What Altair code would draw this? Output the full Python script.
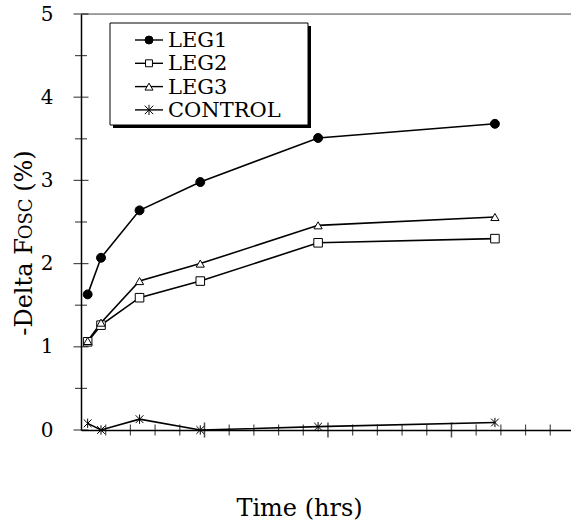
import altair as alt
import pandas as pd

# ---- data ----
series = ["LEG1", "LEG2", "LEG3", "CONTROL"]
time_hrs = [0.27, 0.81, 2.37, 4.83, 9.6, 16.76]
leg1 = [1.63, 2.07, 2.64, 2.98, 3.51, 3.68]
leg2 = [1.06, 1.26, 1.59, 1.79, 2.25, 2.30]
leg3 = [1.07, 1.29, 1.79, 2.00, 2.46, 2.56]
control = [0.08, 0.0, 0.13, 0.0, 0.04, 0.09]

y_ticks = [0, 1, 2, 3, 4, 5]
y_minor = [0.5, 1.5, 2.5, 3.5, 4.5]
x_major = [5, 10, 15]
x_minor = [1, 2, 3, 4, 6, 7, 8, 9, 11, 12, 13, 14, 16, 17, 18, 19]

FONT = "DejaVu Serif"
W, H = 490, 416
XMAX = 19.84

rows = []
for name, vals in zip(series, [leg1, leg2, leg3, control]):
    for t, v in zip(time_hrs, vals):
        rows.append({"series": name, "time": t, "value": v})
df = pd.DataFrame(rows)

asterisk = "M-1,-1L1,1M-1,1L1,-1M0,-1.2L0,1.2"
shapes = ["circle", "square", "triangle-up", asterisk]
fills = ["black", "white", "white", "white"]
sizes = [80, 60, 80, 90]
widths = [1.6, 1.6, 1.6, 1.0]

xs = alt.Scale(domain=[0, XMAX], nice=False, zero=False)
ys = alt.Scale(domain=[0, 5], nice=False)

X = alt.X("time:Q", scale=xs,
          axis=alt.Axis(labels=False, ticks=False, grid=False, values=[],
                        title="Time (hrs)", titleFont=FONT, titleFontSize=24,
                        titleFontWeight="normal", titleColor="black",
                        titleX=218, titleY=85, titleBaseline="alphabetic",
                        titleAlign="center",
                        domainColor="black", domainWidth=1.5))
Y = alt.Y("value:Q", scale=ys,
          axis=alt.Axis(values=y_ticks, format="d", ticks=False, grid=False, labelFont=FONT,
                        labelFontSize=20, labelColor="black", labelPadding=28,
                        title=None, domainColor="black", domainWidth=1.5))

lines = alt.Chart(df).mark_line(color="black").encode(
    x=X, y=Y, detail="series:N",
    strokeWidth=alt.StrokeWidth("series:N", scale=alt.Scale(domain=series, range=widths), legend=None),
)
points = alt.Chart(df).mark_point(filled=True, stroke="black", strokeWidth=1, opacity=1).encode(
    x="time:Q", y="value:Q",
    shape=alt.Shape("series:N", scale=alt.Scale(domain=series, range=shapes), legend=None),
    fill=alt.Fill("series:N", scale=alt.Scale(domain=series, range=fills), legend=None),
    size=alt.Size("series:N", scale=alt.Scale(domain=series, range=sizes), legend=None),
)

# crossing tick marks
ytm = alt.Chart(pd.DataFrame({"v": y_ticks})).mark_tick(orient="horizontal", color="black", size=15, thickness=1.2).encode(
    y="v:Q", x=alt.datum(0))
ytn = alt.Chart(pd.DataFrame({"v": y_minor})).mark_tick(orient="horizontal", color="black", size=12, thickness=1.2).encode(
    y="v:Q", x=alt.datum(0))
xtm = alt.Chart(pd.DataFrame({"v": x_major})).mark_tick(orient="vertical", color="black", size=15, thickness=1.5).encode(
    x="v:Q", y=alt.datum(0))
xtn = alt.Chart(pd.DataFrame({"v": x_minor})).mark_tick(orient="vertical", color="black", size=11, thickness=1.2).encode(
    x="v:Q", y=alt.datum(0))

top = alt.Chart(pd.DataFrame({"a": [0]})).mark_rule(color="#555", strokeWidth=1).encode(
    y=alt.datum(5), x=alt.value(0), x2=alt.value(W))

# legend box with drop shadow
one = pd.DataFrame({"a": [0]})
shadow = alt.Chart(one).mark_rect(color="black").encode(
    x=alt.value(32), x2=alt.value(230), y=alt.value(12), y2=alt.value(114))
box = alt.Chart(one).mark_rect(fill="white", stroke="black", strokeWidth=1).encode(
    x=alt.value(29), x2=alt.value(227), y=alt.value(9), y2=alt.value(111))

legend_layers = []
for i, name in enumerate(series):
    ry = 26 + i * 23.3
    ld = pd.DataFrame({"series": [name]})
    legend_layers.append(alt.Chart(ld).mark_rule(color="black", strokeWidth=1.4).encode(
        x=alt.value(54), x2=alt.value(82), y=alt.value(ry)))
    legend_layers.append(alt.Chart(ld).mark_point(shape=shapes[i], filled=True, fill=fills[i],
                                                  stroke="black", strokeWidth=1, opacity=1,
                                                  size=sizes[i] * 0.8).encode(
        x=alt.value(68), y=alt.value(ry)))
    legend_layers.append(alt.Chart(ld).mark_text(align="left", baseline="middle", font=FONT,
                                                 fontSize=21, color="black").encode(
        x=alt.value(87), y=alt.value(ry + 1), text="series:N"))

# y title "-Delta Fosc (%)" with small caps OSC
ytitle_parts = [("-Delta F", 24), ("OSC", 18), ("(%)", 24)]
em = {"-": .338, "D": .77, "e": .592, "l": .32, "t": .402, "a": .596, " ": .318, "F": .683,
      "O": .787, "S": .685, "C": .734, "(": .39, "%": .95, ")": .39}
gap = 0.32 * 24
total = sum(sum(em[c] for c in s) * fs for s, fs in ytitle_parts) + gap
ystart = (243 - 14) + total / 2
title_layers = []
for k, (s, fs) in enumerate(ytitle_parts):
    if k == 2:
        ystart -= gap
    title_layers.append(alt.Chart(pd.DataFrame({"t": [s]})).mark_text(
        angle=270, align="left", baseline="alphabetic", font=FONT, fontSize=fs, color="black").encode(
        x=alt.value(-49), y=alt.value(ystart), text="t:N"))
    ystart -= sum(em[c] for c in s) * fs

chart = alt.layer(
    top, lines, points, ytm, ytn, xtm, xtn, shadow, box, *legend_layers, *title_layers
).properties(
    width=W, height=H,
    autosize=alt.AutoSizeParams(type="none"),
    padding={"left": 81, "top": 14, "right": 0, "bottom": 97},
).configure_view(stroke=None).configure(background="white")

chart.save("out.html", embed_options={"renderer": "svg", "actions": False})
